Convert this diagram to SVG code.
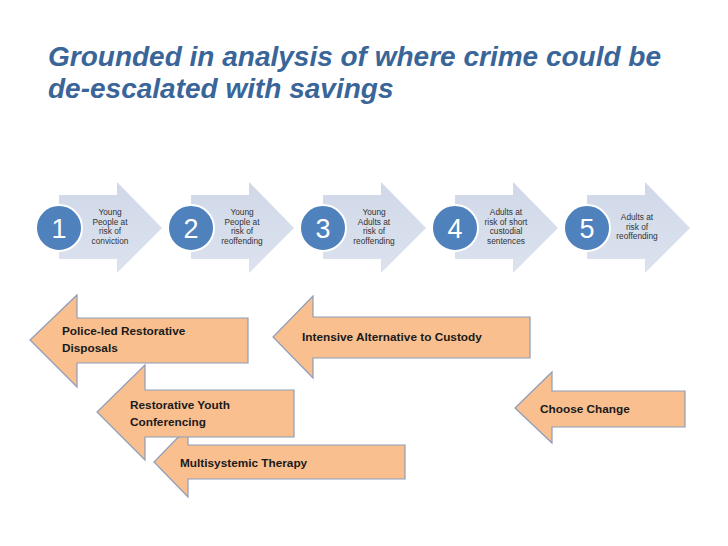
<svg xmlns="http://www.w3.org/2000/svg" width="728" height="546" viewBox="0 0 728 546">
<defs>
<style>
.title{font-family:"Liberation Sans",Arial,sans-serif;font-weight:bold;font-style:italic;font-size:28px;fill:#3A6599}
.blue{fill:#D3DBEA}
.circ{fill:#4F81BD;stroke:#FFFFFF;stroke-width:2}
.num{font-family:"Liberation Sans",Arial,sans-serif;font-size:27px;fill:#FFFFFF;text-anchor:middle}
.small{font-family:"Liberation Sans",Arial,sans-serif;font-size:8.3px;fill:#333333;text-anchor:middle}
.org{fill:#F9BF8F;stroke:#8C9DB8;stroke-width:1.2}
.lbl{font-family:"Liberation Sans",Arial,sans-serif;font-weight:bold;font-size:11.8px;fill:#1a1a1a}
</style>
<linearGradient id="bg" x1="0" y1="0" x2="0" y2="1">
<stop offset="0" stop-color="#D0D8E8"/>
<stop offset="1" stop-color="#DCE2EE"/>
</linearGradient>
</defs>
<rect width="728" height="546" fill="#FFFFFF"/>
<text class="title" x="48" y="66">Grounded in analysis of where crime could be</text>
<text class="title" x="48" y="98">de-escalated with savings</text>

<g id="step1">
<path fill="url(#bg)" d="M59,195 H117 V182 L162,228 L117,273 V259 H59 Z"/>
<circle class="circ" cx="59" cy="228" r="23"/>
<text class="num" x="59" y="238">1</text>
<text class="small"><tspan x="110" y="215">Young</tspan><tspan x="110" y="224.5">People at</tspan><tspan x="110" y="234">risk of</tspan><tspan x="110" y="243.5">conviction</tspan></text>
</g>
<g id="step2">
<path fill="url(#bg)" d="M191,195 H249 V182 L294,228 L249,273 V259 H191 Z"/>
<circle class="circ" cx="191" cy="228" r="23"/>
<text class="num" x="191" y="238">2</text>
<text class="small"><tspan x="242" y="215">Young</tspan><tspan x="242" y="224.5">People  at</tspan><tspan x="242" y="234">risk of</tspan><tspan x="242" y="243.5">reoffending</tspan></text>
</g>
<g id="step3">
<path fill="url(#bg)" d="M323,195 H381 V182 L426,228 L381,273 V259 H323 Z"/>
<circle class="circ" cx="323" cy="228" r="23"/>
<text class="num" x="323" y="238">3</text>
<text class="small"><tspan x="374" y="215">Young</tspan><tspan x="374" y="224.5">Adults at</tspan><tspan x="374" y="234">risk of</tspan><tspan x="374" y="243.5">reoffending</tspan></text>
</g>
<g id="step4">
<path fill="url(#bg)" d="M455,195 H513 V182 L558,228 L513,273 V259 H455 Z"/>
<circle class="circ" cx="455" cy="228" r="23"/>
<text class="num" x="455" y="238">4</text>
<text class="small"><tspan x="506" y="215">Adults at</tspan><tspan x="506" y="224.5">risk of short</tspan><tspan x="506" y="234">custodial</tspan><tspan x="506" y="243.5">sentences</tspan></text>
</g>
<g id="step5">
<path fill="url(#bg)" d="M587,195 H645 V182 L690,228 L645,273 V259 H587 Z"/>
<circle class="circ" cx="587" cy="228" r="23"/>
<text class="num" x="587" y="238">5</text>
<text class="small"><tspan x="637" y="220">Adults at</tspan><tspan x="637" y="229.5">risk of</tspan><tspan x="637" y="239">reoffending</tspan></text>
</g>

<g id="police">
<path class="org" d="M248,318 V363 H77 V387 L30,340 L77,295 V318 Z"/>
<text class="lbl"><tspan x="62" y="335">Police-led Restorative</tspan><tspan x="62" y="352">Disposals</tspan></text>
</g>
<g id="iac">
<path class="org" d="M530,317 V358 H313 V378 L273,337 L313,296 V317 Z"/>
<text class="lbl" x="302" y="341">Intensive Alternative to Custody</text>
</g>
<g id="mst">
<path class="org" d="M405,445 V479 H188 V497 L154,462 L188,427 V445 Z"/>
<text class="lbl" x="180" y="467">Multisystemic Therapy</text>
</g>
<g id="ryc">
<path class="org" d="M294,390 V437 H145 V460 L97,412 L145,365 V390 Z"/>
<text class="lbl"><tspan x="130" y="409">Restorative Youth</tspan><tspan x="130" y="426">Conferencing</tspan></text>
</g>
<g id="choose">
<path class="org" d="M685,391 V427 H552 V443 L515,408 L552,372 V391 Z"/>
<text class="lbl" x="540" y="413">Choose Change</text>
</g>
<g id="connectors"></g>
</svg>
